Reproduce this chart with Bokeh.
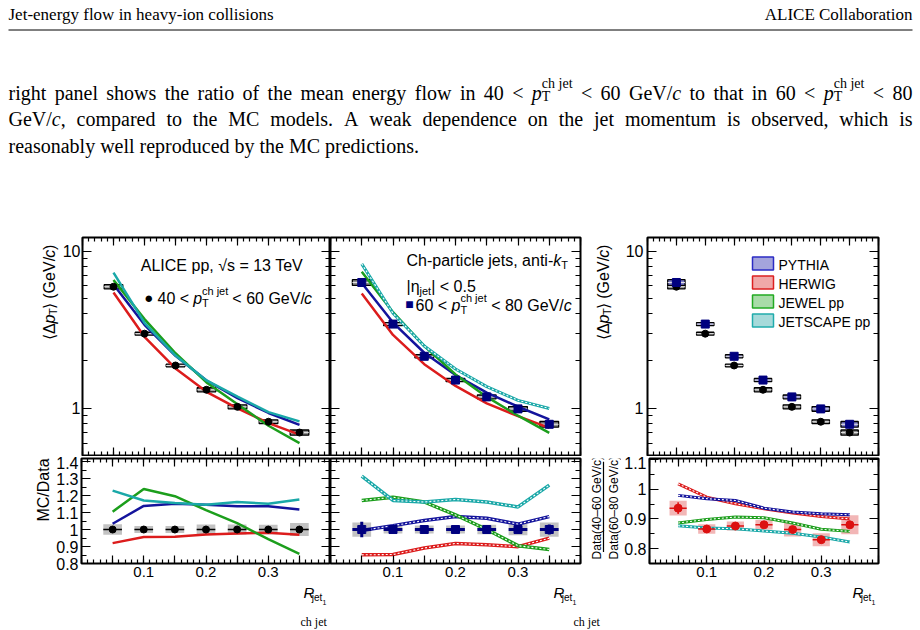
import math
from bokeh.plotting import figure
from bokeh.layouts import column, row
from bokeh.models import (Range1d, LinearAxis, LogAxis, FixedTicker, CustomJSTickFormatter,
                          Label)
from bokeh.embed import file_html
from bokeh.resources import INLINE

SANS = "Liberation Sans"
SERIF = "Liberation Serif"

# ------------------------------------------------------------------ values
r_jet = [0.05, 0.10, 0.15, 0.20, 0.25, 0.30, 0.35]
r_half = 0.015

# mean energy flow <Delta pT> (GeV/c)
dpt_40_60 = [5.93, 2.98, 1.87, 1.31, 1.02, 0.82, 0.70]
dpt_60_80 = [6.31, 3.43, 2.14, 1.51, 1.18, 0.99, 0.79]
stat_40_60 = [0.006, 0.005, 0.005, 0.005, 0.006, 0.007, 0.008]
sys_40_60 = [0.031, 0.021, 0.020, 0.030, 0.030, 0.028, 0.038]
stat_60_80 = [0.045, 0.020, 0.018, 0.018, 0.020, 0.025, 0.030]
sys_60_80 = [0.042, 0.023, 0.023, 0.023, 0.028, 0.034, 0.042]

# MC / data, 40 < pT < 60
pythia_40_60 = [1.034, 1.139, 1.152, 1.146, 1.137, 1.137, 1.118]
herwig_40_60 = [0.920, 0.956, 0.958, 0.971, 0.977, 0.981, 0.969]
jewel_40_60 = [1.105, 1.238, 1.196, 1.114, 1.038, 0.943, 0.857]
jetscape_40_60 = [1.229, 1.171, 1.156, 1.146, 1.162, 1.152, 1.177]

# MC / data, 60 < pT < 80
pythia_60_80 = [0.994, 1.023, 1.053, 1.076, 1.066, 1.032, 1.076]
herwig_60_80 = [0.851, 0.853, 0.891, 0.918, 0.910, 0.899, 0.949]
jewel_60_80 = [1.171, 1.190, 1.162, 1.086, 1.000, 0.905, 0.882]
jetscape_60_80 = [1.314, 1.171, 1.162, 1.177, 1.162, 1.133, 1.261]

# Data(40-60) / Data(60-80) and model predictions of the same ratio
ratio_data = [0.936, 0.866, 0.876, 0.880, 0.864, 0.830, 0.880]
ratio_stat = [0.020, 0.010, 0.010, 0.010, 0.010, 0.010, 0.012]
ratio_sys = [0.025, 0.016, 0.015, 0.016, 0.023, 0.022, 0.032]
pythia_ratio = [0.979, 0.968, 0.962, 0.936, 0.923, 0.917, 0.914]
herwig_ratio = [1.018, 0.973, 0.951, 0.934, 0.920, 0.908, 0.900]
jewel_ratio = [0.886, 0.898, 0.906, 0.904, 0.886, 0.865, 0.858]
jetscape_ratio = [0.877, 0.869, 0.867, 0.859, 0.852, 0.839, 0.822]

model_names = ["PYTHIA", "HERWIG", "JEWEL pp", "JETSCAPE pp"]

# ------------------------------------------------------------------ style
C_PY, C_HW, C_JW, C_JS = "#14149c", "#dc1c1c", "#1c9e1c", "#1aa8a8"
NAVY = "#00007f"
LEG_FILL = ["#a4a4dc", "#f0a8a8", "#a8dca8", "#a6dada"]
LEG_LINE = ["#2b2bc4", "#dc2020", "#22aa22", "#20acac"]
TEXT_RAISE = 4  # labels sit slightly low on the alphabetic baseline

# approximate advance widths (1/1000 em) for laying out composite labels
AW = {' ': 278, '.': 278, ',': 278, '<': 584, '=': 584, '/': 278, '(': 333, ')': 333,
      '|': 260, '-': 333, '–': 556, 'A': 667, 'C': 722, 'D': 722, 'E': 667, 'G': 778,
      'I': 278, 'L': 556, 'M': 833, 'T': 611, 'V': 667, 'a': 556, 'c': 500, 'e': 556,
      'h': 556, 'i': 222, 'j': 222, 'k': 500, 'l': 222, 'n': 556, 'o': 556, 'p': 556,
      'r': 333, 's': 500, 't': 278, 'Δ': 668, '⟨': 390, '⟩': 390, '√': 549, 'η': 556}
TW = {' ': 250, '.': 250, ',': 250, '/': 278, '<': 564, '-': 333, 'A': 722, 'C': 667,
      'E': 611, 'G': 722, 'I': 333, 'J': 389, 'L': 611, 'M': 889, 'T': 611, 'V': 722,
      'a': 444, 'b': 500, 'c': 444, 'd': 500, 'e': 444, 'f': 333, 'g': 500, 'h': 500,
      'i': 278, 'j': 278, 'k': 500, 'l': 278, 'm': 778, 'n': 500, 'o': 500, 'p': 500,
      'r': 333, 's': 389, 't': 278, 'u': 500, 'v': 500, 'w': 722, 'x': 500, 'y': 500,
      'z': 444}


def text_w(s, size, table):
    dflt = 556 if table is AW else 500
    return sum(table.get(ch, dflt) for ch in s) / 1000.0 * size


def geo(fx0, fx1, fy0, fy1, xr, yr, log=False):
    """page pixel -> data coordinates of a frame"""
    def f(px, py):
        x = xr[0] + (px - fx0) / (fx1 - fx0) * (xr[1] - xr[0])
        t = (fy1 - py) / (fy1 - fy0)
        if log:
            a, b = math.log10(yr[0]), math.log10(yr[1])
            y = 10 ** (a + t * (b - a))
        else:
            y = yr[0] + t * (yr[1] - yr[0])
        return x, y
    return f


def ident(px, py):
    return px, py


def put(p, g, px, py, text, size, italic=False, angle=0.0, align="left",
        base="alphabetic", font=SANS, color="black"):
    if base == "alphabetic":
        py -= TEXT_RAISE
    x, y = g(px, py)
    p.add_layout(Label(x=x, y=y, text=text, text_font=font, text_font_size=f"{size}px",
                       text_font_style="italic" if italic else "normal", angle=angle,
                       text_align=align, text_baseline=base, text_color=color))


def run(p, g, x0, y0, pieces, font=SANS, table=AW):
    """horizontal run of text pieces (sub/superscripts via shift)"""
    pos = x0
    for text, size, italic, shift, adv in pieces:
        lead = text_w(text[:len(text) - len(text.lstrip())], size, table)
        core = text.strip()
        if core:
            put(p, g, pos + lead, y0 + shift, core, size, italic, font=font)
        if adv:
            pos += text_w(text, size, table)
    return pos


def vrun(p, g, xb, y0, pieces, font=SANS, table=AW):
    """run reading bottom to top; xb is the baseline, y0 the start"""
    pos = y0
    for text, size, italic, shift, adv in pieces:
        lead = text_w(text[:len(text) - len(text.lstrip())], size, table)
        core = text.strip()
        w = text_w(core, size, table)
        if core:
            put(p, g, xb + shift - 0.32 * size, pos - lead - w / 2, core, size, italic,
                angle=math.pi / 2, align="center", base="middle", font=font)
        if adv:
            pos -= text_w(text, size, table)
    return pos


def run_width(pieces, table):
    return sum(text_w(t, s, table) for t, s, i, sh, adv in pieces if adv)


# ------------------------------------------------------------------ axes helpers
x_major = [round(0.05 * i, 2) for i in range(9)]
x_minor = [round(0.01 * i, 2) for i in range(41)]
log_major = [1, 10]
log_minor = [0.5, 0.6, 0.7, 0.8, 0.9, 2, 3, 4, 5, 6, 7, 8, 9]
rat_major = [0.8, 0.9, 1.0, 1.1, 1.2, 1.3, 1.4]
rat_minor = [round(0.8 + 0.05 * i, 2) for i in range(13)]
rat3_major = [0.8, 0.9, 1.0, 1.1]
rat3_minor = [round(0.75 + 0.05 * i, 2) for i in range(8)]

FMT_X = ("const r = Math.round(tick * 100);"
         "return (r == 10 || r == 20 || r == 30) ? (r / 100).toFixed(1) : '';")
FMT_LOG = "return String(tick);"
FMT_RAT = "return Math.abs(tick - 1) < 1e-6 ? '1' : tick.toFixed(1);"


def style_axis(ax, major, minor, maj_len, min_len, fmt=None, standoff=4, size="16px"):
    ax.ticker = FixedTicker(ticks=major, minor_ticks=minor)
    ax.axis_line_color = None
    ax.major_tick_in = maj_len
    ax.major_tick_out = 0
    ax.minor_tick_in = min_len
    ax.minor_tick_out = 0
    ax.major_tick_line_width = 1.2
    ax.minor_tick_line_width = 1.2
    ax.major_tick_line_color = "black"
    ax.minor_tick_line_color = "black"
    ax.axis_label = None
    if fmt is None:
        ax.formatter = CustomJSTickFormatter(code="return '';")
        ax.major_label_text_font_size = "0px"
        ax.major_label_standoff = 0
    else:
        ax.formatter = CustomJSTickFormatter(code=fmt)
        ax.major_label_text_font = SANS
        ax.major_label_text_font_size = size
        ax.major_label_text_color = "black"
        ax.major_label_standoff = standoff


def panel(w, h, bl, br, bt, bb, yr, log, ymaj, ymin, yfmt, xfmt, ystand=4):
    p = figure(width=w, height=h, x_range=Range1d(0.0, 0.4), y_range=Range1d(*yr),
               y_axis_type="log" if log else "linear", toolbar_location=None,
               output_backend="svg", min_border_left=bl, min_border_right=br,
               min_border_top=bt, min_border_bottom=bb)
    p.grid.visible = False
    p.outline_line_color = "black"
    p.outline_line_width = 2
    p.border_fill_color = "white"
    right_ax = LogAxis() if log else LinearAxis()
    top_ax = LinearAxis()
    p.add_layout(right_ax, "right")
    p.add_layout(top_ax, "above")
    style_axis(p.left[0], ymaj, ymin, 9, 5, yfmt, standoff=ystand)
    style_axis(right_ax, ymaj, ymin, 9, 5, None)
    style_axis(p.below[0], x_major, x_minor, 8, 4, xfmt, standoff=3, size="15px")
    style_axis(top_ax, x_major, x_minor, 8, 4, None)
    return p


def text_fig(w, h, px0, py0):
    f = figure(width=w, height=h, x_range=Range1d(px0, px0 + w),
               y_range=Range1d(py0 + h, py0), toolbar_location=None, output_backend="svg",
               x_axis_location=None, y_axis_location=None, min_border=0,
               outline_line_color=None)
    f.grid.visible = False
    return f


LOG_R = (0.5, 12.2)
RAT_R = (0.8, 1.418)
RAT3_R = (0.75, 1.103)
TOP_Y = (237, 455)

# page: header 0-230, top row 230-456, ratio row 456-584, footer 584-630
gT1 = text_fig(59, 226, 0, 230)
top1 = panel(271, 226, 20, 0, 7, 1, LOG_R, True, log_major, log_minor, FMT_LOG, None, 2)
gR1 = text_fig(53, 128, 0, 456)
rat1 = panel(277, 128, 26, 0, 2, 21, RAT_R, False, rat_major, rat_minor, FMT_RAT, FMT_X, 3)
top2 = panel(252, 226, 0, 2, 7, 1, LOG_R, True, log_major, log_minor, None, None)
rat2 = panel(252, 128, 0, 2, 2, 21, RAT_R, False, rat_major, rat_minor, None, FMT_X)
gT3 = text_fig(34, 226, 582, 230)
top3 = panel(304, 226, 31, 42, 7, 1, LOG_R, True, log_major, log_minor, FMT_LOG, None)
gR3 = text_fig(39, 128, 582, 456)
rat3 = panel(299, 128, 26, 42, 2, 21, RAT3_R, False, rat3_major, rat3_minor, FMT_RAT, FMT_X, 3)

g_top1 = geo(79, 330, *TOP_Y, (0, 0.4), LOG_R, True)
g_top2 = geo(330, 580, *TOP_Y, (0, 0.4), LOG_R, True)
g_top3 = geo(647, 878, *TOP_Y, (0, 0.4), LOG_R, True)

left = [r - r_half for r in r_jet]
right = [r + r_half for r in r_jet]


def data_boxes(p, vals, rel_sys, fill):
    p.quad(left=left, right=right,
           bottom=[v * (1 - s) for v, s in zip(vals, rel_sys)],
           top=[v * (1 + s) for v, s in zip(vals, rel_sys)],
           fill_color=fill, line_color="black", line_width=1.3)
    p.segment(x0=left, x1=right, y0=vals, y1=vals, line_color="#e4e4e4", line_width=1)


def hatched(p, x, y, color, width=3.5):
    p.line(x, y, line_color=color, line_width=width)
    p.line(x, y, line_color="white", line_width=1.1, line_dash="2 2")


# ------------------------------------------------------------------ top panels
ratios_40 = [herwig_40_60, pythia_40_60, jewel_40_60, jetscape_40_60]
ratios_60 = [herwig_60_80, pythia_60_80, jewel_60_80, jetscape_60_80]
colors = [C_HW, C_PY, C_JW, C_JS]

data_boxes(top1, dpt_40_60, sys_40_60, "#8c8c8c")
for rr, c in zip(ratios_40, colors):
    top1.line(r_jet, [a * b for a, b in zip(rr, dpt_40_60)], line_color=c, line_width=2.5)
top1.scatter(r_jet, dpt_40_60, marker="circle", size=7, color="black")

data_boxes(top2, dpt_60_80, sys_60_80, "#8c8c8c")
for rr, c in zip(ratios_60, colors):
    mc = [a * b for a, b in zip(rr, dpt_60_80)]
    if c == C_JS:
        hatched(top2, r_jet, mc, c, 3)
    else:
        top2.line(r_jet, mc, line_color=c, line_width=2.5)
top2.scatter(r_jet, dpt_60_80, marker="square", size=8, color=NAVY)

data_boxes(top3, dpt_40_60, sys_40_60, "#8c8c8c")
data_boxes(top3, dpt_60_80, sys_60_80, "#7c7cc8")
top3.scatter(r_jet, dpt_40_60, marker="circle", size=7, color="black")
top3.scatter(r_jet, dpt_60_80, marker="square", size=8, color=NAVY)

# legend of the models
for i, (name, fc, lc) in enumerate(zip(model_names, LEG_FILL, LEG_LINE)):
    cy = 263 + 19 * i
    x0, y0 = g_top3(752, cy + 6.5)
    x1, y1 = g_top3(773, cy - 6.5)
    top3.quad(left=[x0], right=[x1], bottom=[y0], top=[y1], fill_color=fc,
              line_color=lc, line_width=1.5)
    put(top3, g_top3, 778, cy + 5, name, 14)


# ------------------------------------------------------------------ ratio panels
def ratio_points(p, vals, stat, sys_, box_fill, color, bar_w, marker, msize):
    p.quad(left=left, right=right, bottom=[v - s for v, s in zip(vals, sys_)],
           top=[v + s for v, s in zip(vals, sys_)], fill_color=box_fill, line_color=None)

    def finish():
        p.segment(x0=left, x1=right, y0=vals, y1=vals, line_color=color, line_width=bar_w)
        p.segment(x0=r_jet, x1=r_jet, y0=[v - s for v, s in zip(vals, stat)],
                  y1=[v + s for v, s in zip(vals, stat)], line_color=color, line_width=bar_w)
        p.scatter(r_jet, vals, marker=marker, size=msize, color=color)
    return finish


ones = [1.0] * len(r_jet)
finish1 = ratio_points(rat1, ones, stat_40_60, sys_40_60, "#c2c2c2", "black", 1.5, "circle", 7)
for rr, c in zip(ratios_40, colors):
    rat1.line(r_jet, rr, line_color=c, line_width=2.5)
finish1()

finish2 = ratio_points(rat2, ones, stat_60_80, sys_60_80, "#c2c2c2", NAVY, 3, "square", 8)
for rr, c in zip(ratios_60, colors):
    hatched(rat2, r_jet, rr, c, 3.5)
finish2()

finish3 = ratio_points(rat3, ratio_data, ratio_stat, ratio_sys, "#f2b6b6", "#dc1010", 1.5,
                       "circle", 8)
for rr, c in zip([herwig_ratio, pythia_ratio, jewel_ratio, jetscape_ratio], colors):
    hatched(rat3, r_jet, rr, c, 3)
finish3()

# ------------------------------------------------------------------ panel texts
S, s = 16, 11
run(top1, g_top1, 138, 269, [("ALICE pp, √s = 13 TeV", S, False, 0, True)])
put(top1, g_top1, 146, 297, "●", 15, align="center", base="middle")
run(top1, g_top1, 155, 302, [("40 < ", S, False, 0, True), ("p", S, True, 0, True),
                             ("T", s, False, 4, False), ("ch jet", s, False, -8, True),
                             (" < 60 GeV/", S, False, 0, True), ("c", S, True, 0, True)])

run(top2, g_top2, 406, 264, [("Ch-particle jets, anti-", S, False, 0, True),
                             ("k", S, True, 0, True), ("T", s, False, 4, True)])
run(top2, g_top2, 406, 290, [("|η", S, False, 0, True), ("jet", s, False, 4, True),
                             ("| < 0.5", S, False, 0, True)])
put(top2, g_top2, 409, 303, "■", 14, align="center", base="middle", color=NAVY)
run(top2, g_top2, 415, 309, [("60 < ", S, False, 0, True), ("p", S, True, 0, True),
                             ("T", s, False, 4, False), ("ch jet", s, False, -8, True),
                             (" < 80 GeV/", S, False, 0, True), ("c", S, True, 0, True)])

# axis titles (drawn in their own strips beside the frames)
dpt_title = [("⟨Δ", S, False, 0, True), ("p", S, True, 0, True), ("T", s, False, 2, True),
             ("⟩ (GeV/", S, False, 0, True), ("c", S, True, 0, True), (")", S, False, 0, True)]
vrun(gT1, ident, 54.5, 336, dpt_title)
vrun(gT3, ident, 608, 336, dpt_title)
vrun(gR1, ident, 48.5, 526, [("MC/Data", S, False, 0, True)])

FS = 12
put(gR3, ident, 600 - 0.32 * FS, 516, "Data(40–60 GeV/c)", FS, angle=math.pi / 2,
    align="center", base="middle")
put(gR3, ident, 617 - 0.32 * FS, 516, "Data(60–80 GeV/c)", FS, angle=math.pi / 2,
    align="center", base="middle")
gR3.segment(x0=[603], x1=[603], y0=[460], y1=[570], line_color="black", line_width=1.2)

# ------------------------------------------------------------------ page text
hdr = text_fig(920, 230, 0, 0)
put(hdr, ident, 8, 18, "Jet-energy flow in heavy-ion collisions", 17, font=SERIF)
put(hdr, ident, 912, 18, "ALICE Collaboration", 17, font=SERIF, align="right")
hdr.segment(x0=[8], y0=[29.5], x1=[912], y1=[29.5], line_color="black", line_width=1)

B, SM = 20, 14


def wd(t, it=False):
    return [(t, B, it, 0, True)]


PT_CH = [("p", B, True, 0, True), ("T", SM, False, 4, False), ("ch jet", SM, False, -9, True)]
GEVC = [("GeV/", B, False, 0, True), ("c", B, True, 0, True)]

line1 = ([wd(t) for t in "right panel shows the ratio of the mean energy flow in 40 <".split()]
         + [PT_CH, wd("<"), wd("60"), GEVC]
         + [wd(t) for t in "to that in 60 <".split()] + [PT_CH, wd("<"), wd("80")])
line2 = ([[("GeV/", B, False, 0, True), ("c", B, True, 0, True), (",", B, False, 0, True)]]
         + [wd(t) for t in ("compared to the MC models. A weak dependence on the jet "
                            "momentum is observed, which is").split()])


def justify(words, x0, x1, baseline):
    widths = [run_width(w, TW) for w in words]
    gap = (x1 - x0 - sum(widths)) / (len(words) - 1)
    x = x0
    for w, ww in zip(words, widths):
        run(hdr, ident, x, baseline, w, font=SERIF, table=TW)
        x += ww + gap


justify(line1, 8, 912, 96)
justify(line2, 8, 912, 122.5)
put(hdr, ident, 8, 149, "reasonably well reproduced by the MC predictions.", B, font=SERIF)

# footer strip: x-axis titles and the top of the caption line
ftr = text_fig(920, 46, 0, 584)
for x in (303, 553, 852):
    run(ftr, ident, x, 596, [("R", 15, True, 0, True), ("jet", 10, False, 4.5, True),
                             ("1", 7, False, 10, True)])
put(ftr, ident, 300, 625, "ch jet", 12, font=SERIF)
put(ftr, ident, 573, 625, "ch jet", 12, font=SERIF)

layout = column(
    hdr,
    row(column(row(gT1, top1), row(gR1, rat1)),
        column(top2, rat2),
        column(row(gT3, top3), row(gR3, rat3))),
    ftr)

open("out.html", "w").write(file_html(layout, INLINE))
